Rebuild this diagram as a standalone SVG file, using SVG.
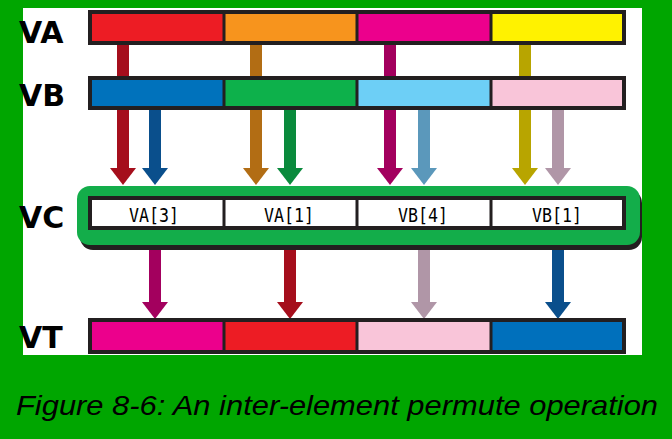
<svg xmlns="http://www.w3.org/2000/svg" width="672" height="439" viewBox="0 0 672 439">
<style>
.lbl{font-family:"DejaVu Sans","Liberation Sans",sans-serif;font-weight:bold;font-size:30px;fill:#000}
.cell{font-family:"DejaVu Sans Mono","Liberation Mono",monospace;font-size:20px;fill:#000;text-anchor:middle}
.bar{stroke:#231f20;stroke-width:4}
.div{stroke:#231f20;stroke-width:3}
.cap{font-family:"Liberation Sans","DejaVu Sans",sans-serif;font-style:italic;font-size:28px;fill:#000}
</style>
<rect width="672" height="439" fill="#00a600"/>
<rect x="23" y="8" width="619" height="347" fill="#fff"/>

<g id="connectors">
  <g>
    <rect x="117" y="45" width="12" height="124" fill="#a50e1c"/><path d="M110,168 H136 L123,185 Z" fill="#a50e1c"/>
    <rect x="250" y="45" width="12" height="124" fill="#b26d14"/><path d="M243,168 H269 L256,185 Z" fill="#b26d14"/>
    <rect x="384" y="45" width="12" height="124" fill="#a3005e"/><path d="M377,168 H403 L390,185 Z" fill="#a3005e"/>
    <rect x="519" y="45" width="12" height="124" fill="#b8a500"/><path d="M512,168 H538 L525,185 Z" fill="#b8a500"/>
    <rect x="149" y="110" width="12" height="59" fill="#0a4f8c"/><path d="M142,168 H168 L155,185 Z" fill="#0a4f8c"/>
    <rect x="284" y="110" width="12" height="59" fill="#0a8a3c"/><path d="M277,168 H303 L290,185 Z" fill="#0a8a3c"/>
    <rect x="418" y="110" width="12" height="59" fill="#5b98bb"/><path d="M411,168 H437 L424,185 Z" fill="#5b98bb"/>
    <rect x="552" y="110" width="12" height="59" fill="#b096a7"/><path d="M545,168 H571 L558,185 Z" fill="#b096a7"/>
  </g>
  <g>
    <rect x="149" y="245" width="12" height="58" fill="#a3005e"/><path d="M142,302 H168 L155,319 Z" fill="#a3005e"/>
    <rect x="284" y="245" width="12" height="58" fill="#a50e1c"/><path d="M277,302 H303 L290,319 Z" fill="#a50e1c"/>
    <rect x="418" y="245" width="12" height="58" fill="#b096a7"/><path d="M411,302 H437 L424,319 Z" fill="#b096a7"/>
    <rect x="552" y="245" width="12" height="58" fill="#0a4f8c"/><path d="M545,302 H571 L558,319 Z" fill="#0a4f8c"/>
  </g>
</g>

<g id="VA">
  <rect x="90" y="12" width="134" height="31" fill="#ed1c24"/>
  <rect x="224" y="12" width="133" height="31" fill="#f7941d"/>
  <rect x="357" y="12" width="134" height="31" fill="#ec008c"/>
  <rect x="491" y="12" width="133" height="31" fill="#fff200"/>
  <rect x="90" y="12" width="534" height="31" fill="none" class="bar"/>
  <path d="M224,12V43M357,12V43M491,12V43" class="div"/>
  <text x="19" y="43" class="lbl">VA</text>
</g>

<g id="VB">
  <rect x="90" y="78" width="134" height="30" fill="#0072bc"/>
  <rect x="224" y="78" width="133" height="30" fill="#0db14b"/>
  <rect x="357" y="78" width="134" height="30" fill="#6dcff6"/>
  <rect x="491" y="78" width="133" height="30" fill="#f9c5d9"/>
  <rect x="90" y="78" width="534" height="30" fill="none" class="bar"/>
  <path d="M224,78V108M357,78V108M491,78V108" class="div"/>
  <text x="19" y="106" class="lbl">VB</text>
</g>

<g id="VC">
  <rect x="80" y="190" width="562" height="60" rx="13" fill="#231f20"/>
  <rect x="77" y="186" width="563" height="59" rx="13" fill="#13ad4a"/>
  <rect x="90" y="198" width="534" height="30" fill="#fff" class="bar"/>
  <path d="M224,198V228M357,198V228M491,198V228" class="div"/>
  <text x="154" y="222" class="cell" textLength="50" lengthAdjust="spacingAndGlyphs">VA[3]</text>
  <text x="289" y="222" class="cell" textLength="50" lengthAdjust="spacingAndGlyphs">VA[1]</text>
  <text x="423" y="222" class="cell" textLength="50" lengthAdjust="spacingAndGlyphs">VB[4]</text>
  <text x="557" y="222" class="cell" textLength="50" lengthAdjust="spacingAndGlyphs">VB[1]</text>
  <text x="19" y="228" class="lbl">VC</text>
</g>

<g id="VT">
  <rect x="90" y="320" width="134" height="32" fill="#ec008c"/>
  <rect x="224" y="320" width="133" height="32" fill="#ed1c24"/>
  <rect x="357" y="320" width="134" height="32" fill="#f9c5d9"/>
  <rect x="491" y="320" width="133" height="32" fill="#0070bc"/>
  <rect x="90" y="320" width="534" height="32" fill="none" class="bar"/>
  <path d="M224,320V352M357,320V352M491,320V352" class="div"/>
  <text x="19" y="348" class="lbl">VT</text>
</g>

<text x="16" y="415" class="cap" textLength="642" lengthAdjust="spacingAndGlyphs">Figure 8-6: An inter-element permute operation</text>
</svg>
